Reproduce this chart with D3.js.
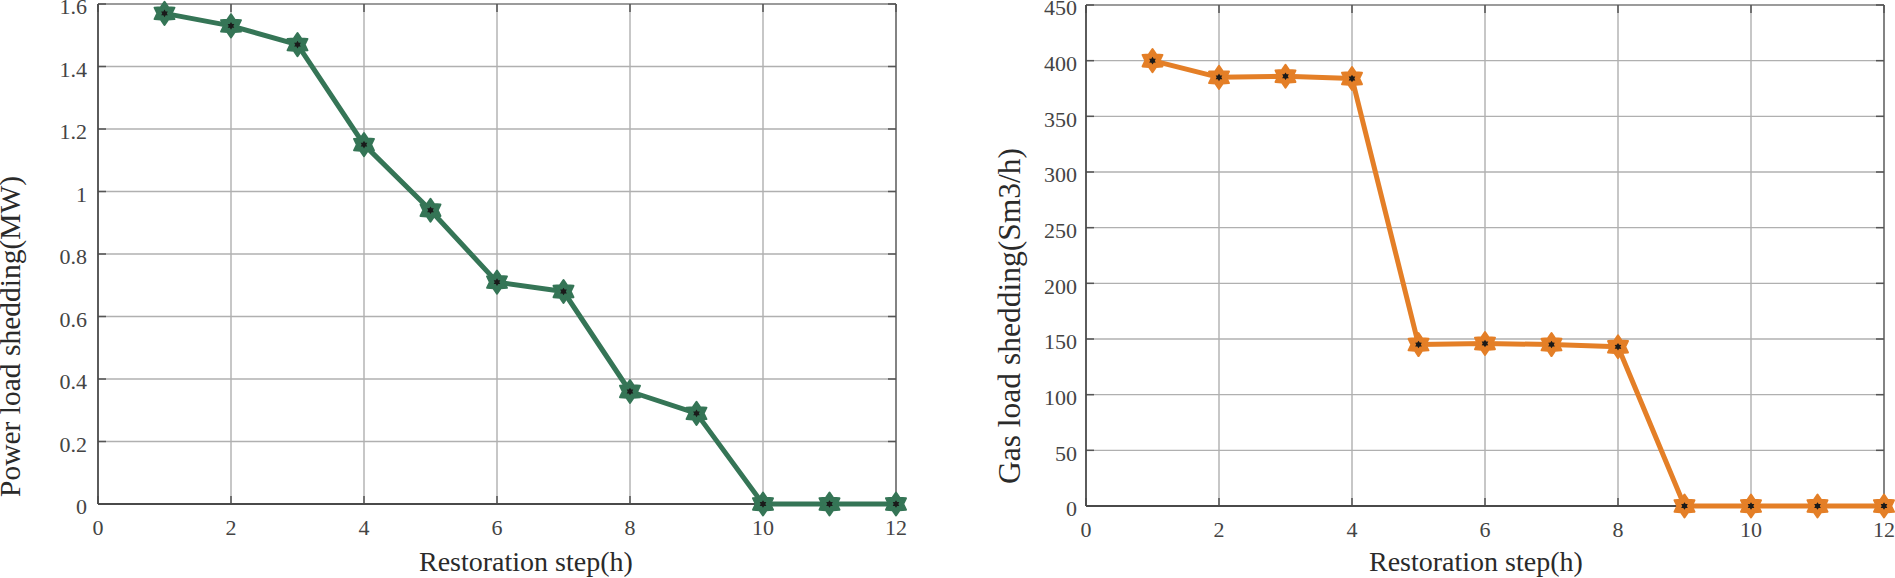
<!DOCTYPE html>
<html>
<head>
<meta charset="utf-8">
<script src="https://cdn.jsdelivr.net/npm/d3@7/dist/d3.min.js"></script>
<style>
  html, body { margin: 0; padding: 0; background: #fff; }
  svg { display: block; }
</style>
</head>
<body>
<svg id="chart" width="1895" height="578"></svg>
<script>
// ---- data ----
const steps = [1, 2, 3, 4, 5, 6, 7, 8, 9, 10, 11, 12];
const powerShedding = [1.57, 1.53, 1.47, 1.15, 0.94, 0.71, 0.68, 0.36, 0.29, 0, 0, 0];
const gasShedding = [400, 385, 386, 384, 145, 146, 145, 143, 0, 0, 0, 0];
const xTicks = [0, 2, 4, 6, 8, 10, 12];
const powerTicks = [0, 0.2, 0.4, 0.6, 0.8, 1, 1.2, 1.4, 1.6];
const gasTicks = [0, 50, 100, 150, 200, 250, 300, 350, 400, 450];
const xLabel = "Restoration step(h)";
const powerLabel = "Power load shedding(MW)";
const gasLabel = "Gas load shedding(Sm3/h)";

const svg = d3.select("#chart");
const FONT = "Liberation Serif, Times New Roman, serif";

function starPath(R, r) {
  const pts = [];
  for (let i = 0; i < 12; i++) {
    const a = -Math.PI / 2 + i * Math.PI / 6;
    const rad = i % 2 === 0 ? R : r;
    pts.push([rad * Math.cos(a), rad * Math.sin(a)]);
  }
  return "M" + pts.map(p => p[0].toFixed(2) + "," + p[1].toFixed(2)).join("L") + "Z";
}

function panel(cfg) {
  const { left, right, top, bottom, values, yTicks, yMax, color, yLabel, yLabelX, yLabelY, yLabelSize, xLabelX, tickEnd } = cfg;
  const x = d3.scaleLinear().domain([0, 12]).range([left, right]);
  const y = d3.scaleLinear().domain([0, yMax]).range([bottom, top]);
  const g = svg.append("g");

  // grid
  g.append("g").selectAll("line").data(xTicks.slice(1, -1)).join("line")
    .attr("x1", d => x(d)).attr("x2", d => x(d)).attr("y1", top).attr("y2", bottom)
    .attr("stroke", "#a9a9a9").attr("stroke-width", 1.3);
  g.append("g").selectAll("line").data(yTicks.slice(1, -1)).join("line")
    .attr("y1", d => y(d)).attr("y2", d => y(d)).attr("x1", left).attr("x2", right)
    .attr("stroke", "#b0b0b0").attr("stroke-width", 1.3);
  g.append("line").attr("x1", left).attr("x2", right).attr("y1", top).attr("y2", top)
    .attr("stroke", "#7a7a7a").attr("stroke-width", 1.3);
  g.append("line").attr("x1", right).attr("x2", right).attr("y1", top).attr("y2", bottom)
    .attr("stroke", "#5a5a5a").attr("stroke-width", 1.5);

  // inward ticks on all four sides
  const tl = 8;
  const tickCol = "#555";
  g.append("g").selectAll("line").data(xTicks).join("line")
    .attr("x1", d => x(d)).attr("x2", d => x(d)).attr("y1", bottom).attr("y2", bottom - tl)
    .attr("stroke", tickCol).attr("stroke-width", 1.5);
  g.append("g").selectAll("line").data(xTicks).join("line")
    .attr("x1", d => x(d)).attr("x2", d => x(d)).attr("y1", top).attr("y2", top + tl)
    .attr("stroke", tickCol).attr("stroke-width", 1.5);
  g.append("g").selectAll("line").data(yTicks).join("line")
    .attr("y1", d => y(d)).attr("y2", d => y(d)).attr("x1", left).attr("x2", left + tl)
    .attr("stroke", tickCol).attr("stroke-width", 1.5);
  g.append("g").selectAll("line").data(yTicks).join("line")
    .attr("y1", d => y(d)).attr("y2", d => y(d)).attr("x1", right).attr("x2", right - tl)
    .attr("stroke", tickCol).attr("stroke-width", 1.5);

  // main axes (left & bottom)
  g.append("line").attr("x1", left).attr("x2", right).attr("y1", bottom).attr("y2", bottom)
    .attr("stroke", "#4a4a4a").attr("stroke-width", 1.8);
  g.append("line").attr("x1", left).attr("x2", left).attr("y1", top).attr("y2", bottom)
    .attr("stroke", "#4a4a4a").attr("stroke-width", 1.8);

  // tick labels
  g.append("g").selectAll("text").data(xTicks).join("text")
    .attr("x", d => x(d)).attr("y", bottom + 31)
    .attr("text-anchor", "middle")
    .style("font-family", FONT).style("font-size", "22px").attr("fill", "#444")
    .text(d => d);
  g.append("g").selectAll("text").data(yTicks).join("text")
    .attr("x", tickEnd).attr("y", d => y(d)).attr("dy", "0.47em")
    .attr("text-anchor", "end")
    .style("font-family", FONT).style("font-size", "22px").attr("fill", "#444")
    .text(d => d);

  // axis labels
  g.append("text").attr("x", xLabelX).attr("y", 571)
    .attr("text-anchor", "start")
    .style("font-family", FONT).style("font-size", "28px").attr("fill", "#2a2a2a")
    .text(xLabel);
  g.append("text")
    .attr("transform", `translate(${yLabelX},${yLabelY}) rotate(-90)`)
    .attr("text-anchor", "start")
    .style("font-family", FONT).style("font-size", yLabelSize + "px").attr("fill", "#2a2a2a")
    .text(yLabel);

  // line
  const line = d3.line().x((d, i) => x(steps[i])).y(d => y(d));
  g.append("path").datum(values).attr("d", line)
    .attr("fill", "none").attr("stroke", color).attr("stroke-width", 5)
    .attr("stroke-linejoin", "round");

  // markers
  const big = starPath(11.5, 7.2);
  const small = starPath(3.8, 2.3);
  const m = g.append("g").selectAll("g").data(values).join("g")
    .attr("transform", (d, i) => `translate(${x(steps[i])},${y(d)})`);
  m.append("path").attr("d", big).attr("fill", color).attr("stroke", color)
    .attr("stroke-width", 2).attr("stroke-linejoin", "round");
  m.append("path").attr("d", small).attr("fill", "#1a1a1a");
}

panel({
  left: 98, right: 896, top: 4, bottom: 504,
  values: powerShedding, yTicks: powerTicks, yMax: 1.6,
  color: "#357556", yLabel: powerLabel, yLabelSize: 29.5,
  yLabelX: 20, yLabelY: 497, xLabelX: 419, tickEnd: 87
});
panel({
  left: 1086, right: 1884, top: 5, bottom: 506,
  values: gasShedding, yTicks: gasTicks, yMax: 450,
  color: "#e47f27", yLabel: gasLabel, yLabelSize: 31.5,
  yLabelX: 1020, yLabelY: 484, xLabelX: 1369, tickEnd: 1077
});
</script>
</body>
</html>
